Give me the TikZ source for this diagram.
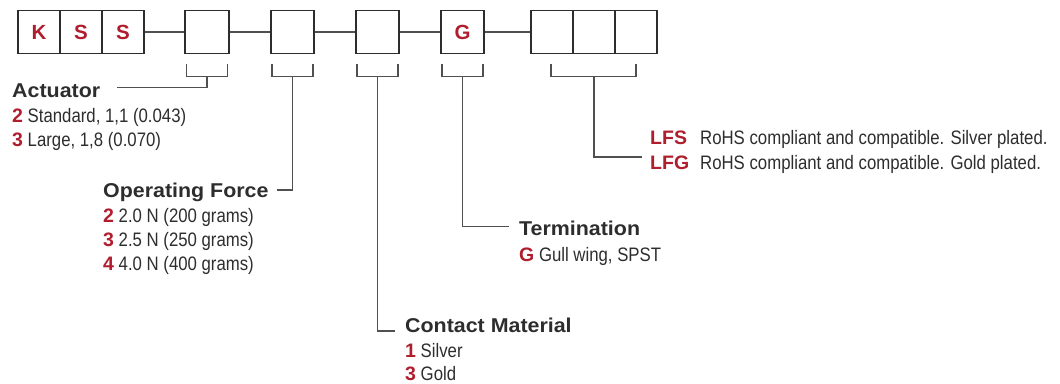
\documentclass[tikz,border=0pt]{standalone}
\usepackage{fontspec}
\setmainfont{Liberation Sans}[FakeStretch=0.86]
\newfontfamily\headfont{Liberation Sans}[FakeStretch=1.07]
\newfontfamily\keyfont{Liberation Sans}
\usepackage{tikz}
\definecolor{kred}{RGB}{176,30,46}
\definecolor{kink}{RGB}{45,45,45}
\definecolor{kline}{RGB}{80,80,80}
\newcommand{\key}[1]{{\keyfont\bfseries\color{kred}#1}}

\begin{document}
\begin{tikzpicture}[x=1pt, y=1pt]
\tikzstyle{cell} = [rectangle, draw=kink, line width=1.4pt, minimum width=42pt, minimum height=43pt, inner sep=0pt, text=kred, font=\keyfont\bfseries\fontsize{20.5}{20}\selectfont]
\tikzstyle{wire} = [draw=kline, line width=1.3pt]
\tikzstyle{head} = [anchor=base west, inner sep=0pt, text=kink, font=\headfont\bfseries\fontsize{20}{20}\selectfont]
\tikzstyle{item} = [anchor=base west, inner sep=0pt, text=kink, font=\fontsize{19.5}{20}\selectfont]

\useasboundingbox (0,0) rectangle (1060,-383);

% part number boxes
\node[cell] (k) at (39,-32) {K};
\node[cell] (s1) at (81,-32) {S};
\node[cell] (s2) at (123,-32) {S};
\node[cell, minimum width=44pt] (act) at (207,-32) {};
\node[cell, minimum width=43pt] (frc) at (292.5,-32) {};
\node[cell, minimum width=43pt] (mat) at (377.5,-32) {};
\node[cell, minimum width=43pt] (trm) at (462.5,-32) {G};
\node[cell] (p1) at (552,-32) {};
\node[cell] (p2) at (594,-32) {};
\node[cell] (p3) at (636,-32) {};

\draw[wire] (s2) -- (act);
\draw[wire] (act) -- (frc);
\draw[wire] (frc) -- (mat);
\draw[wire] (mat) -- (trm);
\draw[wire] (trm) -- (p1);

% brackets
\foreach \b in {act,frc,mat,trm}
  \draw[wire] ([xshift=-20.5pt,yshift=-10pt]\b.south) -- ++(0,-12.5) -- ++(41,0) -- ++(0,12.5);
\draw[wire] ([xshift=-43pt,yshift=-10pt]p2.south) -- ++(0,-12.5) -- ++(85,0) -- ++(0,12.5);

% labels
\node[head] (acth) at (12,-97) {Actuator};
\node[item] (act2) at (12,-122) {\key{2} Standard, 1,1 (0.043)};
\node[item] (act3) at (12,-146) {\key{3} Large, 1,8 (0.070)};

\node[head] (frch) at (103,-197) {Operating Force};
\node[item] (frc2) at (103,-222) {\key{2} 2.0 N (200 grams)};
\node[item] (frc3) at (103,-246.5) {\key{3} 2.5 N (250 grams)};
\node[item] (frc4) at (103,-270.5) {\key{4} 4.0 N (400 grams)};

\node[head] (math) at (405,-332) {Contact Material};
\node[item] (mat1) at (405,-357) {\key{1} Silver};
\node[item] (mat3) at (405,-380) {\key{3} Gold};

\node[head] (trmh) at (519,-235.5) {Termination};
\node[item] (trmg) at (519,-261) {\key{G} Gull wing, SPST};

\node[item] (lfs) at (650,-144) {\key{LFS}};
\node[item] (lfst) at (700,-144) {RoHS compliant and compatible. Silver plated.};
\node[item] (lfg) at (650,-169) {\key{LFG}};
\node[item] (lfgt) at (700,-169) {RoHS compliant and compatible. Gold plated.};

% leader lines
\coordinate (actend) at (117,-87.5);
\coordinate (frcend) at (277,-190);
\coordinate (matend) at (395,-331);
\coordinate (trmend) at (509,-226.5);
\coordinate (plend) at (642,-157);

\draw[wire] ([yshift=-22.5pt]act.south) |- (actend);
\draw[wire] ([yshift=-22.5pt]frc.south) |- (frcend);
\draw[wire] ([yshift=-22.5pt]mat.south) |- (matend);
\draw[wire] ([yshift=-22.5pt]trm.south) |- (trmend);
\draw[wire] ([yshift=-22.5pt]p2.south) |- (plend);
\end{tikzpicture}
\end{document}
